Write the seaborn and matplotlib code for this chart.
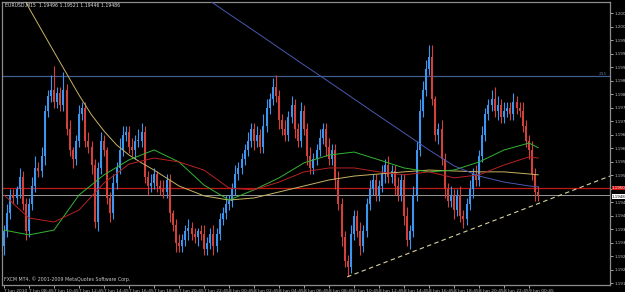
import matplotlib
matplotlib.use("Agg")
import matplotlib.pyplot as plt
import seaborn as sns
import numpy as np
import pandas as pd

# ---------------- data (EURUSD M15) ----------------
closes = [
    1.1936, 1.1942, 1.1948, 1.1947, 1.1950, 1.1954, 1.1945, 1.1936, 1.1945, 1.1951,
    1.1957, 1.1956, 1.1961, 1.1976, 1.1981, 1.1983, 1.1979, 1.1982, 1.1978, 1.1983,
    1.1970, 1.1963, 1.1960, 1.1966, 1.1975, 1.1977, 1.1966, 1.1964, 1.1958, 1.1939,
    1.1957, 1.1966, 1.1963, 1.1947, 1.1942, 1.1952, 1.1957, 1.1963, 1.1968, 1.1969,
    1.1964, 1.1963, 1.1966, 1.1966, 1.1969, 1.1954, 1.1951, 1.1952, 1.1955, 1.1951,
    1.1950, 1.1949, 1.1953, 1.1942, 1.1938, 1.1932, 1.1931, 1.1933, 1.1936, 1.1937,
    1.1935, 1.1934, 1.1936, 1.1935, 1.1930, 1.1932, 1.1935, 1.1931, 1.1935, 1.1940,
    1.1942, 1.1945, 1.1946, 1.1950, 1.1955, 1.1957, 1.1960, 1.1963, 1.1966, 1.1970,
    1.1966, 1.1968, 1.1964, 1.1971, 1.1977, 1.1980, 1.1984, 1.1981, 1.1973, 1.1970,
    1.1968, 1.1974, 1.1978, 1.1970, 1.1966, 1.1976, 1.1970, 1.1961, 1.1957, 1.1960,
    1.1963, 1.1967, 1.1970, 1.1964, 1.1960, 1.1963, 1.1953, 1.1945, 1.1934, 1.1926,
    1.1924, 1.1935, 1.1941, 1.1936, 1.1931, 1.1936, 1.1945, 1.1950, 1.1953, 1.1948,
    1.1951, 1.1955, 1.1958, 1.1954, 1.1956, 1.1951, 1.1948, 1.1953, 1.1941, 1.1933,
    1.1936, 1.1948, 1.1963, 1.1976, 1.1983, 1.1990, 1.1994, 1.1980, 1.1968, 1.1970,
    1.1960, 1.1950, 1.1946, 1.1948, 1.1943, 1.1948, 1.1941, 1.1940, 1.1945, 1.1950,
    1.1955, 1.1953, 1.1961, 1.1968, 1.1975, 1.1978, 1.1980, 1.1976, 1.1978, 1.1974,
    1.1976, 1.1977, 1.1975, 1.1979, 1.1977, 1.1976, 1.1971, 1.1966, 1.1963, 1.1955,
    1.1949, 1.1948]

opens = [
    1.1931, 1.1936, 1.1942, 1.1948, 1.1947, 1.1950, 1.1954, 1.1945, 1.1936, 1.1945,
    1.1951, 1.1957, 1.1956, 1.1961, 1.1976, 1.1981, 1.1983, 1.1979, 1.1982, 1.1978,
    1.1983, 1.1970, 1.1963, 1.1960, 1.1966, 1.1975, 1.1977, 1.1966, 1.1964, 1.1958,
    1.1939, 1.1957, 1.1966, 1.1963, 1.1947, 1.1942, 1.1952, 1.1957, 1.1963, 1.1968,
    1.1969, 1.1964, 1.1963, 1.1966, 1.1966, 1.1969, 1.1954, 1.1951, 1.1952, 1.1955,
    1.1951, 1.1950, 1.1949, 1.1953, 1.1942, 1.1938, 1.1932, 1.1931, 1.1933, 1.1936,
    1.1937, 1.1935, 1.1934, 1.1936, 1.1935, 1.1930, 1.1932, 1.1935, 1.1931, 1.1935,
    1.1940, 1.1942, 1.1945, 1.1946, 1.1950, 1.1955, 1.1957, 1.1960, 1.1963, 1.1966,
    1.1970, 1.1966, 1.1968, 1.1964, 1.1971, 1.1977, 1.1980, 1.1984, 1.1981, 1.1973,
    1.1970, 1.1968, 1.1974, 1.1978, 1.1970, 1.1966, 1.1976, 1.1970, 1.1961, 1.1957,
    1.1960, 1.1963, 1.1967, 1.1970, 1.1964, 1.1960, 1.1963, 1.1953, 1.1945, 1.1934,
    1.1926, 1.1924, 1.1935, 1.1941, 1.1936, 1.1931, 1.1936, 1.1945, 1.1950, 1.1953,
    1.1948, 1.1951, 1.1955, 1.1958, 1.1954, 1.1956, 1.1951, 1.1948, 1.1953, 1.1941,
    1.1933, 1.1936, 1.1948, 1.1963, 1.1976, 1.1983, 1.1990, 1.1994, 1.1980, 1.1968,
    1.1970, 1.1960, 1.1950, 1.1946, 1.1948, 1.1943, 1.1948, 1.1941, 1.1940, 1.1945,
    1.1950, 1.1955, 1.1953, 1.1961, 1.1968, 1.1975, 1.1978, 1.1980, 1.1976, 1.1978,
    1.1974, 1.1976, 1.1977, 1.1975, 1.1979, 1.1977, 1.1976, 1.1971, 1.1966, 1.1963,
    1.1955, 1.1949]

# wick lengths in pips above / below the body
upper_wick = [
    2, 3, 2, 2, 1, 3, 2, 2, 2, 3,
    4, 2, 3, 2, 2, 5, 8, 2, 2, 6,
    2, 3, 1, 2, 3, 2, 2, 3, 2, 2,
    2, 3, 2, 1, 2, 3, 2, 4, 3, 2,
    2, 3, 2, 4, 3, 2, 2, 3, 2, 1,
    2, 3, 2, 2, 1, 2, 3, 2, 2, 3,
    2, 2, 1, 2, 3, 2, 2, 3, 2, 2,
    2, 3, 2, 2, 3, 2, 2, 2, 3, 2,
    2, 3, 2, 4, 3, 2, 3, 4, 2, 2,
    3, 2, 3, 2, 2, 3, 2, 2, 3, 2,
    2, 3, 2, 2, 3, 2, 2, 3, 2, 2,
    2, 3, 2, 2, 3, 2, 2, 3, 2, 2,
    2, 3, 2, 3, 2, 2, 3, 2, 2, 3,
    2, 3, 3, 4, 3, 3, 4, 4, 1, 2,
    3, 2, 2, 3, 2, 2, 3, 2, 2, 3,
    2, 3, 2, 3, 2, 2, 3, 4, 3, 2,
    3, 2, 2, 3, 2, 2, 3, 2, 2, 3,
    2, 2]
lower_wick = [
    3, 2, 2, 2, 2, 3, 2, 3, 2, 2,
    2, 2, 2, 3, 2, 2, 2, 2, 2, 2,
    2, 2, 3, 2, 2, 2, 2, 2, 3, 2,
    3, 2, 2, 2, 3, 2, 2, 2, 2, 2,
    2, 2, 3, 2, 2, 2, 3, 2, 2, 2,
    2, 2, 2, 3, 2, 3, 2, 2, 2, 3,
    2, 2, 3, 2, 2, 2, 2, 3, 2, 2,
    2, 2, 2, 2, 2, 2, 2, 2, 2, 2,
    3, 2, 2, 2, 2, 2, 2, 2, 3, 2,
    2, 2, 2, 3, 2, 2, 2, 3, 2, 2,
    2, 2, 2, 3, 2, 2, 3, 2, 3, 2,
    3, 2, 2, 2, 3, 2, 2, 2, 2, 2,
    2, 2, 3, 2, 2, 3, 2, 2, 3, 2,
    3, 2, 2, 2, 2, 2, 2, 2, 2, 3,
    2, 3, 2, 2, 3, 2, 2, 3, 2, 2,
    3, 2, 2, 2, 2, 2, 2, 2, 3, 2,
    2, 2, 2, 2, 2, 2, 2, 2, 3, 2,
    3, 2]

# moving averages (bar index, price)
yellow_idx = [0, 8, 16, 24, 28, 32, 36, 40, 44, 48, 56, 64, 72, 80, 88, 96, 104,
              112, 120, 128, 136, 144, 152, 160, 168, 171]
ma_yellow = [1.20263, 1.20103, 1.19957, 1.19813, 1.19747, 1.19693, 1.19647,
             1.19613, 1.19587, 1.19563, 1.19510, 1.19477, 1.19463, 1.19470,
             1.19490, 1.19510, 1.19530, 1.19543, 1.19550, 1.19557, 1.19563,
             1.19560, 1.19557, 1.19557, 1.19550, 1.19547]
ma_idx = [0, 8, 16, 24, 32, 40, 48, 56, 64, 72, 80, 88, 96, 104, 112, 120,
          128, 136, 144, 152, 160, 168, 171]
ma_green = [1.19363, 1.19347, 1.19363, 1.19480, 1.19547, 1.19597, 1.19630,
            1.19590, 1.19513, 1.19463, 1.19497, 1.19537, 1.19587, 1.19613,
            1.19623, 1.19597, 1.19570, 1.19557, 1.19563, 1.19590, 1.19630,
            1.19653, 1.19637]
ma_red = [1.19480, 1.19403, 1.19390, 1.19430, 1.19520, 1.19583, 1.19603,
          1.19590, 1.19563, 1.19503, 1.19497, 1.19523, 1.19557, 1.19570,
          1.19570, 1.19557, 1.19547, 1.19557, 1.19537, 1.19547, 1.19580,
          1.19607, 1.19603]
slate_idx = [56, 64, 72, 80, 88, 96, 104, 112, 120, 128, 136, 144, 152, 160, 168, 171]
ma_slate = [1.20197, 1.20140, 1.20083, 1.20027, 1.19970, 1.19913, 1.19857,
            1.19800, 1.19743, 1.19687, 1.19630, 1.19577, 1.19543, 1.19523,
            1.19510, 1.19507]

# horizontal levels / trendline
level_blue = 1.19877
level_red = 1.19503
bid_price = 1.19480
trend_idx = [109.8, 193.9]
trend_price = [1.19207, 1.19543]

ytick_values = [1.20085 - k * 0.00045 for k in range(21)]
xtick_idx = list(range(0, 169, 8))
xtick_labels = ["7 Jun 2010", "7 Jun 08:45", "7 Jun 10:45", "7 Jun 12:45",
                "7 Jun 14:45", "7 Jun 16:45", "7 Jun 18:45", "7 Jun 20:45",
                "7 Jun 22:45", "8 Jun 00:45", "8 Jun 02:45", "8 Jun 04:45",
                "8 Jun 06:45", "8 Jun 08:45", "8 Jun 10:45", "8 Jun 12:45",
                "8 Jun 14:45", "8 Jun 16:45", "8 Jun 18:45", "8 Jun 20:45",
                "8 Jun 22:45", "9 Jun 00:45"]
title_text = "EURUSD,M15  1.19496 1.19521 1.19446 1.19486"
copyright_text = "FXCM MT4, \u00a9 2001-2009 MetaQuotes Software Corp."

# ---------------- drawing ----------------
sns.set_theme(style="dark", rc={"axes.facecolor": "black", "figure.facecolor": "black"})
plt.rcParams["font.family"] = ["DejaVu Sans"]

W, H = 625, 292
fig = plt.figure(figsize=(W / 100, H / 100), dpi=100, facecolor="black")
ax = fig.add_axes([2 / W, 7 / H, 608 / W, 283 / H])
ax.set_facecolor("black")
ax.grid(False)

BULL = "#3c96f0"
BEAR = "#d2423a"

n = len(closes)
idx = np.arange(n)
o = np.array(opens)
c = np.array(closes)
top = np.maximum(o, c)
bot = np.minimum(o, c)
hi = top + np.array(upper_wick) * 0.0001
lo = bot - np.array(lower_wick) * 0.0001
cols = [BULL if cc >= oo else BEAR for oo, cc in zip(o, c)]

# reference lines behind candles
ax.axhline(level_blue, color="#3f5f8f", lw=0.9, zorder=1)
ax.axhline(level_red, color="#c01818", lw=0.9, zorder=1)
ax.axhline(bid_price, color="#9a9a9a", lw=0.7, zorder=1)

ax.vlines(idx, lo, hi, colors=cols, lw=0.8, zorder=2)
ax.bar(idx, np.maximum(top - bot, 0.00004), bottom=bot, width=0.62,
       color=cols, linewidth=0, zorder=3)

sns.lineplot(x=yellow_idx, y=ma_yellow, ax=ax, color="#c8b464", lw=0.7, zorder=4)
sns.lineplot(x=ma_idx, y=ma_green, ax=ax, color="#33b533", lw=0.7, zorder=4)
sns.lineplot(x=ma_idx, y=ma_red, ax=ax, color="#b82222", lw=0.7, zorder=4)
sns.lineplot(x=slate_idx, y=ma_slate, ax=ax, color="#4a58b0", lw=0.7, zorder=4)
ax.plot(trend_idx, trend_price, color="#d8d0a0", lw=0.8, ls=(0, (4, 3)), zorder=5)

ax.set_xlim(-0.64, 193.9)
ax.set_ylim(1.19180, 1.20123)

ax.yaxis.tick_right()
ax.set_yticks(ytick_values)
# the tick at the red price box is hidden behind the box in the reference
ylabels = ["" if abs(v - level_red) < 0.0001 else f"{v:.5f}" for v in ytick_values]
ax.set_yticklabels(ylabels)
ax.tick_params(axis="y", colors="#bfbfbf", labelsize=3.0, length=2, width=0.6, pad=1.2,
               right=True, left=False)
ax.set_xticks(xtick_idx)
ax.set_xticklabels(xtick_labels, ha="left")
ax.tick_params(axis="x", colors="#bfbfbf", labelsize=3.2, length=2, width=0.6, pad=0.8,
               bottom=True)
for lab in ax.get_xticklabels():
    lab.set_horizontalalignment("left")
ax.set_xlabel("")
ax.set_ylabel("")

for s in ax.spines.values():
    s.set_color("#8c8c8c")
    s.set_linewidth(0.9)
    s.set_visible(True)

# price boxes on the right axis
ax.text(1.003, level_red, "1.19503", transform=ax.get_yaxis_transform(), fontsize=2.9,
        color="white", va="center", ha="left",
        bbox=dict(boxstyle="square,pad=0.08", fc="#d01010", ec="none"), clip_on=False)
ax.text(1.003, bid_price - 0.00006, "1.19480", transform=ax.get_yaxis_transform(),
        fontsize=2.9, color="black", va="center", ha="left",
        bbox=dict(boxstyle="square,pad=0.08", fc="white", ec="none"), clip_on=False)
ax.text(0.995, level_blue, "211", transform=ax.get_yaxis_transform(), fontsize=3.2,
        color="#5a7ab0", va="bottom", ha="right")

fig.text(5 / W, 1 - 5 / H, title_text, color="#e0e0e0", fontsize=3.3, va="center", ha="left")
fig.text(4 / W, 1 - 279 / H, copyright_text, color="#c8c8c8", fontsize=3.4,
         va="center", ha="left")

fig.savefig("out.png", dpi=100, facecolor="black")
